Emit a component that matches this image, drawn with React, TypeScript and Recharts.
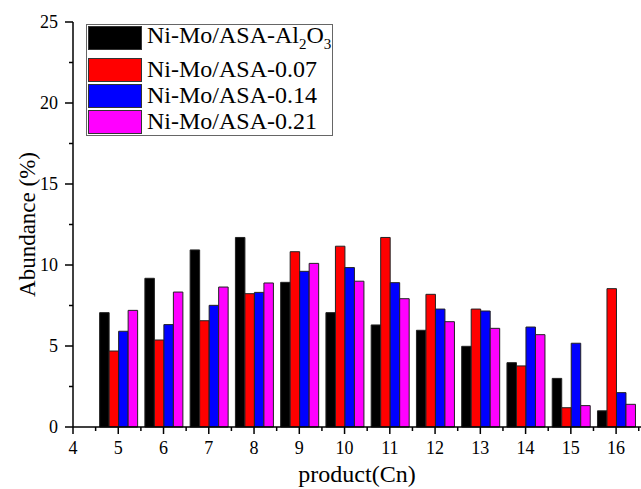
import { BarChart, Bar, XAxis, YAxis, Legend, Label } from "recharts"

const carbonNumbers = [5, 6, 7, 8, 9, 10, 11, 12, 13, 14, 15, 16]
const al2o3 = [7.06, 9.18, 10.93, 11.7, 8.93, 7.06, 6.3, 5.97, 4.98, 3.97, 3.0, 1.0]
const asa007 = [4.69, 5.37, 6.56, 8.23, 10.82, 11.16, 11.7, 8.19, 7.28, 3.77, 1.19, 8.54]
const asa014 = [5.91, 6.32, 7.51, 8.31, 9.61, 9.84, 8.91, 7.28, 7.16, 6.17, 5.17, 2.12]
const asa021 = [7.2, 8.33, 8.64, 8.89, 10.1, 9.0, 7.92, 6.5, 6.09, 5.7, 1.32, 1.4]

const xTicks = [4, 4.5, 5, 5.5, 6, 6.5, 7, 7.5, 8, 8.5, 9, 9.5, 10, 10.5, 11, 11.5, 12, 12.5, 13, 13.5, 14, 14.5, 15, 15.5, 16, 16.5]
const yTicks = [0, 2.5, 5, 7.5, 10, 12.5, 15, 17.5, 20, 22.5, 25]

const series = [
  { key: "al2o3", name: "Ni-Mo/ASA-Al2O3", color: "#000000" },
  { key: "asa007", name: "Ni-Mo/ASA-0.07", color: "#ff0000" },
  { key: "asa014", name: "Ni-Mo/ASA-0.14", color: "#0000ff" },
  { key: "asa021", name: "Ni-Mo/ASA-0.21", color: "#ff00ff" },
]

const data = carbonNumbers.map((n, i) => ({
  n,
  al2o3: al2o3[i],
  asa007: asa007[i],
  asa014: asa014[i],
  asa021: asa021[i],
}))

const font = '"Liberation Serif", "Times New Roman", serif'

function XTick({ x, y, payload }: any) {
  const v = payload.value
  const major = Number.isInteger(v)
  return (
    <g>
      <line x1={x} x2={x} y1={y} y2={y + (major ? 7 : 4)} stroke="#000" strokeWidth={1.5} />
      {major && (
        <text x={x} y={y + 27} textAnchor="middle" fontSize={18} fontFamily={font} fill="#000">
          {v}
        </text>
      )}
    </g>
  )
}

function YTick({ x, y, payload }: any) {
  const v = payload.value
  const major = v % 5 === 0
  return (
    <g>
      <line x1={x} x2={x - (major ? 8 : 4)} y1={y} y2={y} stroke="#000" strokeWidth={1.5} />
      {major && (
        <text x={x - 15} y={y + 6} textAnchor="end" fontSize={18} fontFamily={font} fill="#000">
          {v}
        </text>
      )}
    </g>
  )
}

function XLabel({ viewBox }: any) {
  const { x, y, width } = viewBox
  return (
    <text x={x + width / 2} y={y + 55} textAnchor="middle" fontSize={24} fontFamily={font} fill="#000">
      product(Cn)
    </text>
  )
}

function LegendBox() {
  return (
    <div
      style={{
        width: 245,
        height: 110,
        border: "1px solid #666",
        background: "#fff",
        fontFamily: font,
        fontSize: 24,
        color: "#000",
        position: "relative",
      }}
    >
      {series.map((s, i) => (
        <div
          key={s.key}
          style={{
            position: "absolute",
            left: 1,
            top: i === 0 ? 1 : 7 + i * 26,
            height: 23,
            display: "flex",
            alignItems: "center",
            whiteSpace: "nowrap",
          }}
        >
          <span
            style={{
              display: "inline-block",
              width: 52,
              height: 22,
              background: s.color,
              border: "1px solid #333",
              marginRight: 5,
            }}
          />
          {s.key === "al2o3" ? (
            <span>
              Ni-Mo/ASA-Al<sub style={{ fontSize: 15 }}>2</sub>O<sub style={{ fontSize: 15 }}>3</sub>
            </span>
          ) : (
            <span>{s.name}</span>
          )}
        </div>
      ))}
    </div>
  )
}

export default function App() {
  return (
    <div style={{ position: "absolute", left: 0, top: 0, background: "#fff" }}>
      <BarChart
        width={641}
        height={489}
        data={data}
        margin={{ top: 22, right: 0, bottom: 0, left: 0 }}
        barSize={9.5}
        barGap={0}
      >
        <XAxis
          dataKey="n"
          type="number"
          domain={[4, 16.55]}
          ticks={xTicks}
          interval={0}
          height={62}
          tickSize={0}
          tickMargin={0}
          tickLine={false}
          tick={<XTick />}
          axisLine={{ stroke: "#000", strokeWidth: 1.5 }}
        >
          <Label content={<XLabel />} />
        </XAxis>
        <YAxis
          type="number"
          domain={[0, 25]}
          ticks={yTicks}
          interval={0}
          width={73}
          tickSize={0}
          tickMargin={0}
          tickLine={false}
          tick={<YTick />}
          axisLine={{ stroke: "#000", strokeWidth: 1.5 }}
          label={{
            value: "Abundance (%)",
            angle: -90,
            position: "center",
            dx: -10,
            style: { fontSize: 23, fontFamily: font, fill: "#000" },
          }}
        />
        <Legend
          layout="vertical"
          align="center"
          verticalAlign="middle"
          content={() => <LegendBox />}
          wrapperStyle={{ left: 86, top: 24, width: 247, height: 112 }}
        />
        {series.map((s) => (
          <Bar
            key={s.key}
            dataKey={s.key}
            name={s.name}
            fill={s.color}
            stroke="#222"
            strokeWidth={1}
            isAnimationActive={false}
          />
        ))}
      </BarChart>
    </div>
  )
}
